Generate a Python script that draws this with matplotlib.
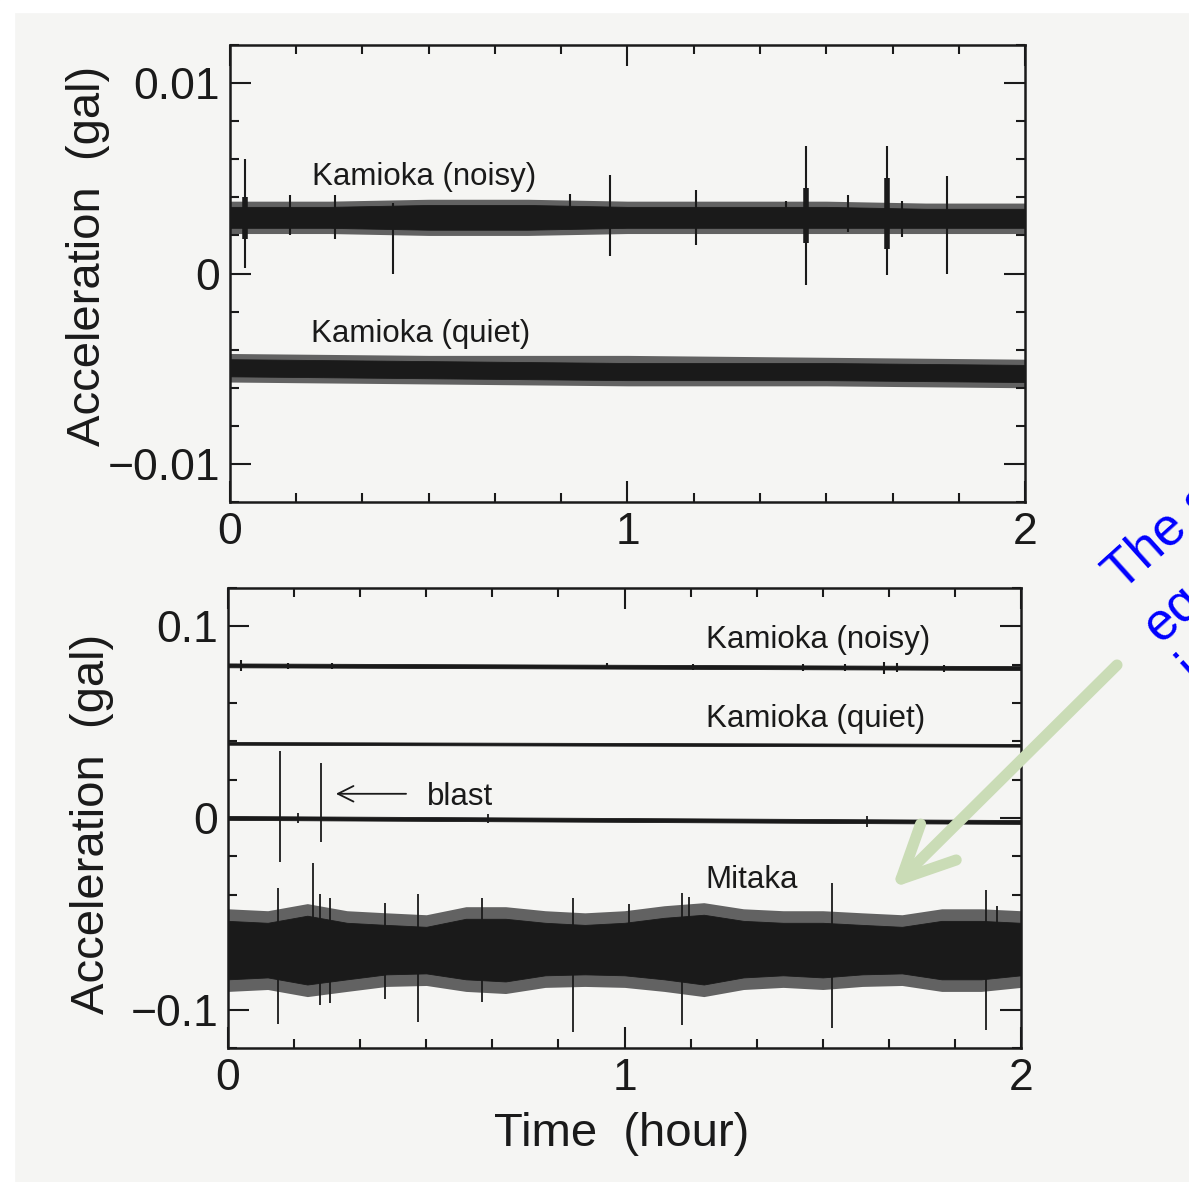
"""
Two-hour acceleration records: Kamioka (noisy / quiet) and Mitaka.
"""
import matplotlib
matplotlib.use('Agg')
import matplotlib.pyplot as plt
from matplotlib.patches import FancyArrowPatch, Rectangle
from matplotlib.ticker import FixedLocator, MultipleLocator, FixedFormatter

plt.rcParams['font.family'] = ['Liberation Sans', 'DejaVu Sans']

INK = '#1a1a1a'
FRINGE = '#626262'
PAPER = '#f5f5f3'

# ---------------- upper panel (gal) ----------------
# Kamioka (noisy): band envelope, core and ragged edge
kn_t = [0.0, 0.25, 0.5, 0.75, 1.0, 1.25, 1.5, 1.75, 2.0]
kn_core_hi = [0.0035, 0.0035, 0.0036, 0.0036, 0.0035, 0.0035, 0.0035, 0.0034, 0.0034]
kn_core_lo = [0.0024, 0.0024, 0.0023, 0.0023, 0.0024, 0.0024, 0.0024, 0.0024, 0.0024]
kn_edge_hi = [0.0038, 0.0038, 0.0039, 0.0039, 0.0038, 0.0038, 0.0038, 0.0037, 0.0037]
kn_edge_lo = [0.0021, 0.0021, 0.0020, 0.0020, 0.0021, 0.0021, 0.0021, 0.0021, 0.0021]
kn_spike_t = [0.038, 0.151, 0.264, 0.409, 0.855, 0.956, 1.172, 1.399, 1.449,
              1.555, 1.653, 1.691, 1.804]
kn_spike_hi = [0.0060, 0.0041, 0.0041, 0.0037, 0.0042, 0.0052, 0.0044, 0.0038, 0.0067,
               0.0041, 0.0067, 0.0038, 0.0051]
kn_spike_lo = [0.0003, 0.0020, 0.0018, 0.0000, 0.0024, 0.0009, 0.0015, 0.0024, -0.0006,
               0.0022, -0.0001, 0.0019, 0.0000]
kn_burst_t = [0.038, 1.449, 1.653]
kn_burst_hi = [0.0040, 0.0045, 0.0050]
kn_burst_lo = [0.0018, 0.0016, 0.0013]

# Kamioka (quiet)
kq_t = [0.0, 0.5, 1.0, 1.5, 2.0]
kq_core_hi = [-0.0045, -0.0046, -0.0047, -0.0047, -0.0048]
kq_core_lo = [-0.0054, -0.0055, -0.0056, -0.0056, -0.0057]
kq_edge_hi = [-0.0042, -0.0043, -0.0043, -0.0044, -0.0045]
kq_edge_lo = [-0.0057, -0.0058, -0.0059, -0.0059, -0.0060]

# ---------------- lower panel (gal) ----------------
line_t = [0.0, 2.0]
# Kamioka (noisy), offset
bn_hi = [0.0806, 0.0792]
bn_lo = [0.0786, 0.0772]
bn_spike_t = [0.033, 0.151, 0.262, 0.956, 1.173, 1.450, 1.556, 1.655, 1.688, 1.806]
bn_spike_hi = [0.0825, 0.0810, 0.0810, 0.0808, 0.0805, 0.0805, 0.0802, 0.0815, 0.0808, 0.0800]
bn_spike_lo = [0.0765, 0.0778, 0.0778, 0.0775, 0.0772, 0.0765, 0.0768, 0.0750, 0.0762, 0.0762]

# Kamioka (quiet), offset
bq_hi = [0.0396, 0.0386]
bq_lo = [0.0382, 0.0372]

# trace at zero with the two blasts
bz_hi = [0.0010, -0.0011]
bz_lo = [-0.0010, -0.0031]
bz_spike_t = [0.131, 0.235, 0.177, 0.656, 1.612]
bz_spike_hi = [0.0347, 0.0289, 0.0025, 0.0020, 0.0012]
bz_spike_lo = [-0.0232, -0.0126, -0.0025, -0.0025, -0.0045]

# Mitaka
mi_t = [0.0, 0.1, 0.2, 0.3, 0.4, 0.5, 0.6, 0.7, 0.8, 0.9, 1.0,
        1.1, 1.2, 1.3, 1.4, 1.5, 1.6, 1.7, 1.8, 1.9, 2.0]
mi_edge_hi = [-0.0474, -0.0484, -0.0447, -0.0484, -0.0495, -0.0505, -0.0463, -0.0463,
              -0.0484, -0.0495, -0.0484, -0.0458, -0.0442, -0.0474, -0.0484, -0.0484,
              -0.0495, -0.0505, -0.0474, -0.0474, -0.0484]
mi_edge_lo = [-0.0905, -0.0895, -0.0932, -0.0905, -0.0879, -0.0874, -0.0905, -0.0916,
              -0.0884, -0.0879, -0.0884, -0.0905, -0.0932, -0.0895, -0.0884, -0.0895,
              -0.0879, -0.0874, -0.0905, -0.0905, -0.0884]
mi_core_hi = [-0.0537, -0.0547, -0.0510, -0.0547, -0.0558, -0.0568, -0.0526, -0.0526,
              -0.0547, -0.0558, -0.0547, -0.0521, -0.0505, -0.0537, -0.0547, -0.0547,
              -0.0558, -0.0568, -0.0537, -0.0537, -0.0547]
mi_core_lo = [-0.0842, -0.0832, -0.0869, -0.0842, -0.0816, -0.0811, -0.0842, -0.0853,
              -0.0821, -0.0816, -0.0821, -0.0842, -0.0869, -0.0832, -0.0821, -0.0832,
              -0.0816, -0.0811, -0.0842, -0.0842, -0.0821]
mi_spike_t = [0.126, 0.214, 0.232, 0.257, 0.396, 0.479, 0.641, 0.870, 1.011,
              1.145, 1.163, 1.523, 1.912, 1.939]
mi_spike_hi = [-0.0363, -0.0237, -0.0395, -0.0416, -0.0442, -0.0395, -0.0416, -0.0416,
               -0.0447, -0.0389, -0.0411, -0.0337, -0.0374, -0.0458]
mi_spike_lo = [-0.1074, -0.0800, -0.0974, -0.0968, -0.0947, -0.1063, -0.0958, -0.1116,
               -0.0800, -0.1079, -0.0800, -0.1095, -0.1105, -0.0800]


def draw_band(ax, t, core_lo, core_hi, edge_lo=None, edge_hi=None):
    if edge_lo is not None:
        ax.fill_between(t, edge_lo, edge_hi, color=FRINGE, lw=0)
    ax.fill_between(t, core_lo, core_hi, color=INK, lw=0.6, edgecolor=INK)


def style_axes(ax, ymajor, yminor, ylabels):
    ax.set_xlim(0.0, 2.0)
    ax.set_facecolor('none')
    ax.xaxis.set_major_locator(FixedLocator([0, 1, 2]))
    ax.xaxis.set_minor_locator(MultipleLocator(1 / 6))
    ax.yaxis.set_major_locator(FixedLocator(ymajor))
    ax.yaxis.set_minor_locator(MultipleLocator(yminor))
    ax.yaxis.set_major_formatter(FixedFormatter(ylabels))
    ax.tick_params(which='both', direction='in', top=True, right=True,
                   width=1.5, color=INK, labelcolor=INK)
    ax.tick_params(which='major', length=15, labelsize=32, pad=7)
    ax.tick_params(which='minor', length=6.5)
    for sp in ax.spines.values():
        sp.set_linewidth(1.8)
        sp.set_color(INK)


fig = plt.figure(figsize=(11.89, 11.82), dpi=100, facecolor=PAPER)
# white scanner margins
fig.patches.append(Rectangle((0, 0), 14 / 1189, 1, transform=fig.transFigure,
                             color='white', zorder=-5))
fig.patches.append(Rectangle((0, 1 - 12 / 1182), 1, 12 / 1182, transform=fig.transFigure,
                             color='white', zorder=-5))

# ---- upper panel
ax1 = fig.add_axes([0.1934, 0.5753, 0.6687, 0.3866])
ax1.set_ylim(-0.012, 0.012)
draw_band(ax1, kn_t, kn_core_lo, kn_core_hi, kn_edge_lo, kn_edge_hi)
ax1.vlines(kn_burst_t, kn_burst_lo, kn_burst_hi, color=INK, lw=4)
ax1.vlines(kn_spike_t, kn_spike_lo, kn_spike_hi, color=INK, lw=1.5)
draw_band(ax1, kq_t, kq_core_lo, kq_core_hi, kq_edge_lo, kq_edge_hi)
ax1.text(0.206, 0.00463, 'Kamioka (noisy)', fontsize=22.5, color=INK)
ax1.text(0.204, -0.00358, 'Kamioka (quiet)', fontsize=22.5, color=INK)
style_axes(ax1, [-0.01, 0, 0.01], 0.002, ['\u22120.01', '0', '0.01'])

# ---- lower panel
ax2 = fig.add_axes([0.1918, 0.1134, 0.6669, 0.3892])
ax2.set_ylim(-0.12, 0.12)
draw_band(ax2, line_t, bn_lo, bn_hi)
ax2.vlines(bn_spike_t, bn_spike_lo, bn_spike_hi, color=INK, lw=1.5)
draw_band(ax2, line_t, bq_lo, bq_hi)
draw_band(ax2, line_t, bz_lo, bz_hi)
ax2.vlines(bz_spike_t, bz_spike_lo, bz_spike_hi, color=INK, lw=1.3)
draw_band(ax2, mi_t, mi_core_lo, mi_core_hi, mi_edge_lo, mi_edge_hi)
ax2.vlines(mi_spike_t, mi_spike_lo, mi_spike_hi, color=INK, lw=1.3)
ax2.text(1.206, 0.0884, 'Kamioka (noisy)', fontsize=22.5, color=INK)
ax2.text(1.206, 0.0474, 'Kamioka (quiet)', fontsize=22.5, color=INK)
ax2.text(1.203, -0.0363, 'Mitaka', fontsize=22.5, color=INK)
ax2.text(0.502, 0.0068, 'blast', fontsize=22.5, color=INK)
ax2.annotate('', xy=(0.272, 0.0126), xytext=(0.449, 0.0126),
             arrowprops=dict(arrowstyle='->', color=INK, lw=1.3,
                             mutation_scale=28, shrinkA=0, shrinkB=0))
style_axes(ax2, [-0.1, 0, 0.1], 0.02, ['\u22120.1', '0', '0.1'])

# axis titles
fig.text(88 / 1189, 1 - 256 / 1182, 'Acceleration  (gal)', rotation=90,
         ha='center', va='center', fontsize=34, color=INK)
fig.text(92 / 1189, 1 - 824 / 1182, 'Acceleration  (gal)', rotation=90,
         ha='center', va='center', fontsize=34, color=INK)
fig.text(622 / 1189, 1 - 1134 / 1182, 'Time  (hour)',
         ha='center', va='center', fontsize=34, color=INK)

# blue note in the margin, running off the page
note_lines = ['The s', 'eq', 'i']
note_starts = [(1122, 592), (1160, 644), (1196, 684)]
for txt, (px, py) in zip(note_lines, note_starts):
    fig.text(px / 1189, 1 - py / 1182, txt, rotation=42, rotation_mode='anchor',
             ha='left', va='baseline', fontsize=38, color='#0000ff')

# green pointer to the Mitaka record
pointer = FancyArrowPatch((1117 / 1189, 1 - 665 / 1182), (892 / 1189, 1 - 888 / 1182),
                          transform=fig.transFigure,
                          arrowstyle='->,head_length=2.7,head_width=1.3',
                          mutation_scale=14, color='#cadcb6', lw=8,
                          capstyle='round', joinstyle='round',
                          shrinkA=0, shrinkB=0)
fig.patches.append(pointer)

fig.savefig('out.png', dpi=100, facecolor=PAPER)
